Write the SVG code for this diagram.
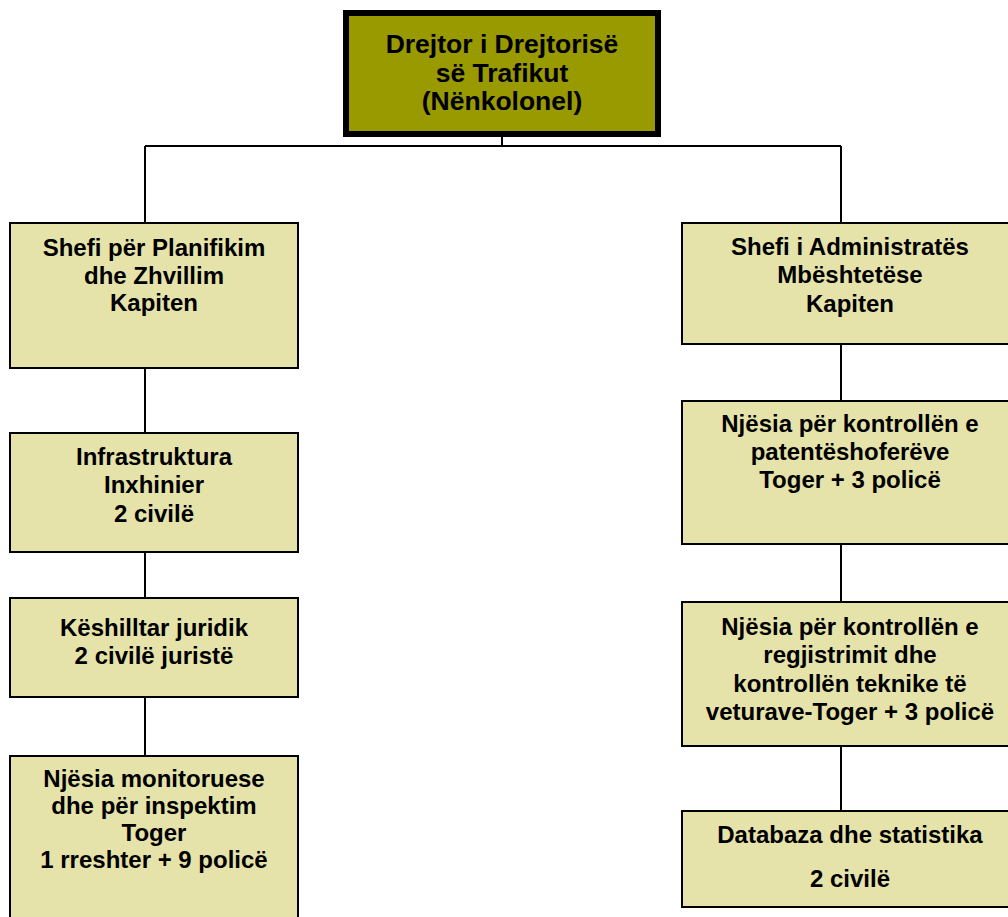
<svg xmlns="http://www.w3.org/2000/svg" width="1008" height="917" viewBox="0 0 1008 917">
  <style>
    .box { fill: #e5e3a9; stroke: #000; stroke-width: 2; }
    .head { fill: #999900; stroke: #000; stroke-width: 6; }
    .lbl { font-family: "Liberation Sans", Arial, sans-serif; font-weight: bold; font-size: 24px; fill: #000; text-anchor: middle; }
    .hlbl { font-size: 26.5px; }
    .wire { fill: none; stroke: #000; stroke-width: 2; }
  </style>
  <rect width="1008" height="917" fill="#fff"/>

  <g id="connectors">
    <path class="wire" d="M502 137 V146 M145 146 H841 M145 146 V223 M841 146 V223"/>
    <path class="wire" d="M145 368 V433 M145 552 V598 M145 697 V757"/>
    <path class="wire" d="M841 344 V401 M841 544 V602 M841 746 V811"/>
  </g>

  <g id="director">
    <rect class="head" x="346" y="13" width="312" height="121"/>
    <text class="lbl hlbl" x="502" y="53">Drejtor i Drejtorisë</text>
    <text class="lbl hlbl" x="502" y="81.5">së Trafikut</text>
    <text class="lbl hlbl" x="502" y="110">(Nënkolonel)</text>
  </g>

  <g id="planning">
    <rect class="box" x="10" y="223" width="288" height="145"/>
    <text class="lbl" x="154" y="256">Shefi për Planifikim</text>
    <text class="lbl" x="154" y="284">dhe Zhvillim</text>
    <text class="lbl" x="154" y="311">Kapiten</text>
  </g>

  <g id="infrastructure">
    <rect class="box" x="10" y="433" width="288" height="119"/>
    <text class="lbl" x="154" y="465">Infrastruktura</text>
    <text class="lbl" x="154" y="493">Inxhinier</text>
    <text class="lbl" x="154" y="522">2 civilë</text>
  </g>

  <g id="legal">
    <rect class="box" x="10" y="598" width="288" height="99"/>
    <text class="lbl" x="154" y="636">Këshilltar juridik</text>
    <text class="lbl" x="154" y="664">2 civilë juristë</text>
  </g>

  <g id="monitoring">
    <rect class="box" x="10" y="756" width="288" height="175"/>
    <text class="lbl" x="154" y="787">Njësia monitoruese</text>
    <text class="lbl" x="154" y="814">dhe për inspektim</text>
    <text class="lbl" x="154" y="841">Toger</text>
    <text class="lbl" x="154" y="868">1 rreshter + 9 policë</text>
  </g>

  <g id="admin">
    <rect class="box" x="682" y="223" width="336" height="121"/>
    <text class="lbl" x="850" y="255">Shefi i Administratës</text>
    <text class="lbl" x="850" y="283">Mbështetëse</text>
    <text class="lbl" x="850" y="312">Kapiten</text>
  </g>

  <g id="licences">
    <rect class="box" x="682" y="401" width="336" height="143"/>
    <text class="lbl" x="850" y="432">Njësia për kontrollën e</text>
    <text class="lbl" x="850" y="460">patentëshoferëve</text>
    <text class="lbl" x="850" y="488">Toger + 3 policë</text>
  </g>

  <g id="registration">
    <rect class="box" x="682" y="602" width="336" height="144"/>
    <text class="lbl" x="850" y="635">Njësia për kontrollën e</text>
    <text class="lbl" x="850" y="663">regjistrimit dhe</text>
    <text class="lbl" x="850" y="692">kontrollën teknike të</text>
    <text class="lbl" x="850" y="720">veturave-Toger + 3 policë</text>
  </g>

  <g id="database">
    <rect class="box" x="682" y="811" width="336" height="96"/>
    <text class="lbl" x="850" y="843">Databaza dhe statistika</text>
    <text class="lbl" x="850" y="887">2 civilë</text>
  </g>
</svg>
